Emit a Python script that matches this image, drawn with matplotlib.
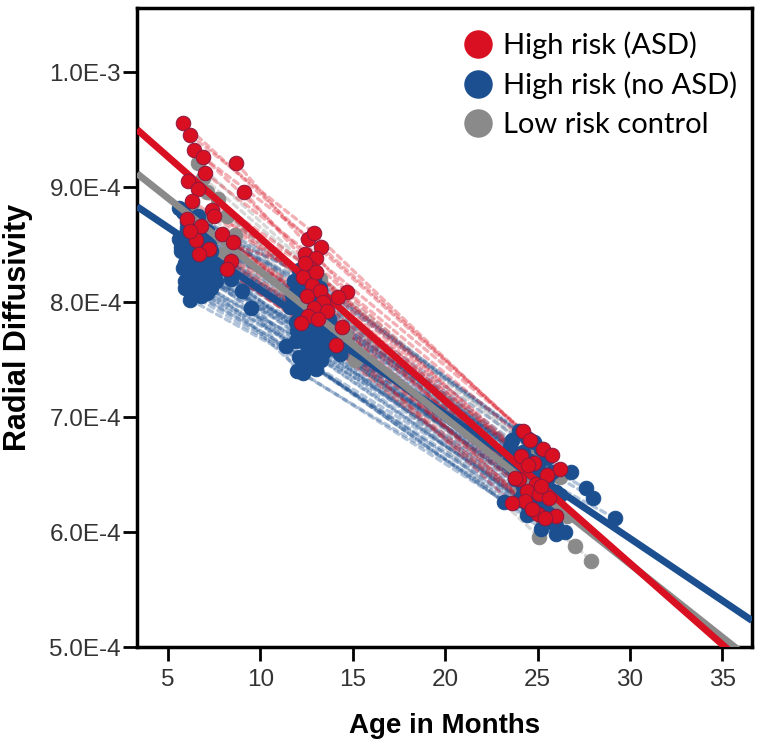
import matplotlib
matplotlib.use("Agg")
import matplotlib.pyplot as plt
from matplotlib.lines import Line2D
import numpy as np

# ---- data (radial diffusivity in units of 1e-4 mm^2/s) ----
red_age1 = [5.8, 6.2, 6.4, 6.9, 7.0, 6.1, 8.7, 9.1, 6.6, 6.3, 7.4, 6.0, 6.8, 7.9, 6.5, 8.5, 7.2, 8.4, 6.7, 8.2, 6.2, 7.5]
red_rd1 = [9.56, 9.45, 9.32, 9.26, 9.12, 9.05, 9.21, 8.96, 8.98, 8.88, 8.80, 8.72, 8.66, 8.59, 8.54, 8.52, 8.46, 8.36, 8.42, 8.29, 8.62, 8.75]
red_age2 = [12.6, 12.9, 13.3, 12.4, 13.0, 12.7, 14.7, 14.2, 12.3, 12.8, 13.2, 12.5, 13.4, 12.9, 13.6, 14.4, 12.6, 13.1, 14.1, 12.2, 13.0, 12.4]
red_rd2 = [8.55, 8.60, 8.48, 8.42, 8.38, 8.30, 8.09, 8.04, 8.22, 8.15, 8.10, 8.05, 8.00, 7.95, 7.92, 7.78, 7.88, 7.85, 7.63, 7.82, 8.26, 8.34]
red_age3 = [24.2, 24.6, 25.3, 24.1, 25.8, 24.8, 26.2, 24.0, 25.5, 24.9, 23.8, 24.4, 25.1, 24.3, 25.6, 25.0, 26.0, 23.6, 25.4, 24.7, 24.5, 25.2]
red_rd3 = [6.88, 6.80, 6.72, 6.66, 6.67, 6.60, 6.55, 6.46, 6.50, 6.42, 6.47, 6.36, 6.33, 6.27, 6.30, 6.16, 6.14, 6.25, 6.12, 6.20, 6.58, 6.40]

blue_age1 = [5.6, 5.8, 6.0, 6.2, 6.4, 6.1, 5.9, 6.6, 6.8, 7.0, 6.3, 5.7, 6.5, 6.9, 7.2, 6.0, 6.4, 6.7, 5.8, 6.2, 7.4, 6.6,
             6.1, 6.9, 7.6, 6.3, 5.9, 6.5, 7.1, 8.0, 6.8, 6.2, 9.0, 6.4, 7.3, 5.6, 6.0, 6.7, 8.4, 6.6, 7.0, 6.3, 9.5, 5.9,
             5.7, 6.1, 6.5, 6.9, 7.3, 5.9, 6.3, 6.8, 7.1, 6.0, 6.6, 7.5]
blue_rd1 = [8.82, 8.78, 8.74, 8.70, 8.66, 8.62, 8.58, 8.75, 8.60, 8.55, 8.52, 8.48, 8.45, 8.42, 8.50, 8.40, 8.36, 8.33, 8.30, 8.28, 8.35, 8.25,
            8.22, 8.20, 8.18, 8.15, 8.12, 8.10, 8.08, 8.30, 8.05, 8.02, 8.10, 8.38, 8.44, 8.55, 8.64, 8.68, 8.20, 8.50, 8.26, 8.46, 7.95, 8.34,
            8.44, 8.32, 8.58, 8.28, 8.12, 8.18, 8.06, 8.40, 8.62, 8.70, 8.14, 8.24]
blue_age2 = [12.1, 12.5, 11.8, 12.9, 13.2, 12.3, 12.6, 13.5, 12.0, 12.8, 13.0, 11.6, 12.4, 13.7, 12.2, 12.7, 13.1, 11.9, 12.5, 13.4, 12.0, 12.9,
             12.3, 13.6, 14.0, 12.6, 11.4, 12.8, 13.3, 12.1, 12.7, 13.0, 14.3, 12.4, 12.2, 13.8, 12.5, 11.7, 13.2, 12.9, 12.6, 13.1, 12.0, 12.3,
             12.2, 12.6, 13.0, 13.4, 11.9, 12.4, 12.8, 13.3, 12.1, 12.7, 13.5, 12.9]
blue_rd2 = [8.28, 8.22, 8.18, 8.20, 8.12, 8.10, 8.05, 8.00, 8.08, 7.98, 7.95, 7.96, 7.92, 7.85, 7.90, 7.86, 7.80, 7.83, 7.78, 7.72, 7.75, 7.70,
            7.66, 7.62, 7.60, 7.58, 7.62, 7.55, 7.50, 7.52, 7.46, 7.42, 7.55, 7.88, 7.94, 7.68, 8.02, 8.06, 7.64, 7.74, 7.48, 7.82, 7.40, 7.38,
            7.70, 7.60, 7.78, 7.56, 7.66, 7.50, 7.44, 7.84, 8.00, 8.14, 7.58, 7.92]
blue_age3 = [24.0, 24.4, 23.6, 24.8, 25.2, 24.2, 23.9, 25.5, 24.6, 25.0, 24.3, 23.4, 24.9, 25.8, 24.1, 24.7, 25.3, 23.8, 24.5, 26.0, 24.2, 25.6,
             24.0, 26.8, 27.6, 24.8, 23.2, 25.1, 29.2, 24.4, 25.4, 26.0, 28.0, 24.6, 23.7, 25.2, 24.1, 23.5, 25.9, 24.9, 25.2, 24.3, 26.5, 26.0,
             24.5, 25.0, 24.2, 25.7, 23.9, 24.7, 25.3, 24.0, 24.8, 25.5, 24.4, 26.2]
blue_rd3 = [6.88, 6.82, 6.80, 6.78, 6.72, 6.70, 6.66, 6.64, 6.62, 6.58, 6.55, 6.60, 6.50, 6.52, 6.48, 6.45, 6.40, 6.46, 6.38, 6.35, 6.33, 6.30,
            6.28, 6.52, 6.38, 6.22, 6.26, 6.18, 6.12, 6.15, 6.10, 6.05, 6.30, 6.42, 6.56, 6.25, 6.68, 6.74, 6.08, 6.36, 6.03, 6.44, 6.00, 5.98,
            6.54, 6.34, 6.40, 6.20, 6.62, 6.28, 6.16, 6.50, 6.58, 6.46, 6.24, 6.32]

gray_age1 = [6.6, 6.9, 7.7, 8.2, 8.2, 6.3, 7.0, 6.5, 7.4, 6.8, 7.9, 6.2, 7.2, 6.6, 8.6, 7.1]
gray_rd1 = [9.21, 9.08, 8.90, 8.75, 8.35, 8.86, 8.70, 8.62, 8.55, 8.48, 8.42, 8.80, 8.38, 8.66, 8.58, 8.96]
gray_age2 = [12.8, 13.2, 13.8, 13.5, 12.6, 12.4, 13.0, 12.7, 14.6, 13.3, 13.9, 12.5, 15.1, 12.9, 13.6, 12.2]
gray_rd2 = [8.28, 8.20, 7.68, 8.02, 7.80, 8.12, 7.95, 7.90, 7.72, 7.84, 7.76, 8.06, 7.50, 7.88, 7.62, 8.16]
gray_age3 = [24.6, 25.0, 25.05, 24.3, 27.0, 24.8, 25.4, 24.1, 27.9, 25.7, 24.5, 26.2, 25.3, 24.9, 26.6, 23.9]
gray_rd3 = [6.74, 6.66, 5.96, 6.52, 5.88, 6.60, 6.44, 6.38, 5.75, 6.30, 6.22, 6.48, 6.08, 6.34, 6.14, 6.56]

# group fitted lines: intercept and slope (1e-4 units, per month)
fit_intercept = {"red": 9.97, "gray": 9.54, "blue": 9.19}
fit_slope = {"red": -0.1414, "gray": -0.1273, "blue": -0.1082}

groups = ["High risk (ASD)", "High risk (no ASD)", "Low risk control"]
x_ticks = [5, 10, 15, 20, 25, 30, 35]
y_ticks = [5.0, 6.0, 7.0, 8.0, 9.0, 10.0]
y_ticklabels = ["5.0E-4", "6.0E-4", "7.0E-4", "8.0E-4", "9.0E-4", "1.0E-3"]

RED = "#D81021"
BLUE = "#1B4F90"
GRAY = "#8A8A8A"
SC = 1e-4

fig = plt.figure(figsize=(7.62, 7.48), dpi=100)
ax = fig.add_axes([137 / 762, 1 - 647 / 748, 615 / 762, 639 / 748])
ax.set_xlim(3.32, 36.6)
ax.set_ylim(5.0 * SC, 10.557 * SC)


def draw_group(a1, r1, a2, r2, a3, r3, color, zp, edge):
    ages = np.array([a1, a2, a3])
    vals = np.array([r1, r2, r3]) * SC
    for i in range(ages.shape[1]):
        ax.plot(ages[:, i], vals[:, i], ls=(0, (1.6, 1.4)), lw=2.4, color=color,
                alpha=0.33, zorder=1, dash_capstyle="round")
    ax.plot(ages.ravel(), vals.ravel(), ls="none", marker="o", ms=10.5,
            mfc=color, mec=edge, mew=0.7, zorder=zp)


draw_group(gray_age1, gray_rd1, gray_age2, gray_rd2, gray_age3, gray_rd3, GRAY, 3, GRAY)
draw_group(blue_age1, blue_rd1, blue_age2, blue_rd2, blue_age3, blue_rd3, BLUE, 4, BLUE)

xx = np.array(ax.get_xlim())
for key, col, z in [("blue", BLUE, 5), ("gray", GRAY, 5.1), ("red", RED, 5.2)]:
    ax.plot(xx, (fit_intercept[key] + fit_slope[key] * xx) * SC, color=col, lw=5, zorder=z,
            solid_capstyle="butt")

draw_group(red_age1, red_rd1, red_age2, red_rd2, red_age3, red_rd3, RED, 6, "#8A1840")

ax.set_xticks(x_ticks)
ax.set_xticklabels([str(t) for t in x_ticks])
ax.set_yticks([v * SC for v in y_ticks])
ax.set_yticklabels(y_ticklabels)
for s in ax.spines.values():
    s.set_linewidth(2.5)
ax.tick_params(direction="out", length=10, width=2, labelsize=17.5, labelcolor="#333333")
ax.tick_params(axis="y", pad=1.5)
ax.tick_params(axis="x", pad=6)
for lab in ax.get_xticklabels() + ax.get_yticklabels():
    lab.set_family(["Liberation Sans", "DejaVu Sans"])

ax.set_xlabel("Age in Months", fontsize=20, fontweight="bold",
              family=["Liberation Sans", "DejaVu Sans"], labelpad=16)
ax.set_ylabel("Radial Diffusivity", fontsize=22, fontweight="bold",
              family=["Liberation Sans", "DejaVu Sans"], labelpad=12)

handles = [Line2D([], [], ls="none", marker="o", ms=19.5, mfc=c, mec=c) for c in (RED, BLUE, GRAY)]
leg = ax.legend(handles, groups, loc="upper right", bbox_to_anchor=(0.985, 0.9725), frameon=False,
                prop={"family": ["Lato", "DejaVu Sans"], "size": 21}, handletextpad=0.35,
                labelspacing=0.44, handlelength=1.0, borderaxespad=0.0, borderpad=0.2)
leg.set_zorder(10)

fig.savefig("out.png", dpi=100)
